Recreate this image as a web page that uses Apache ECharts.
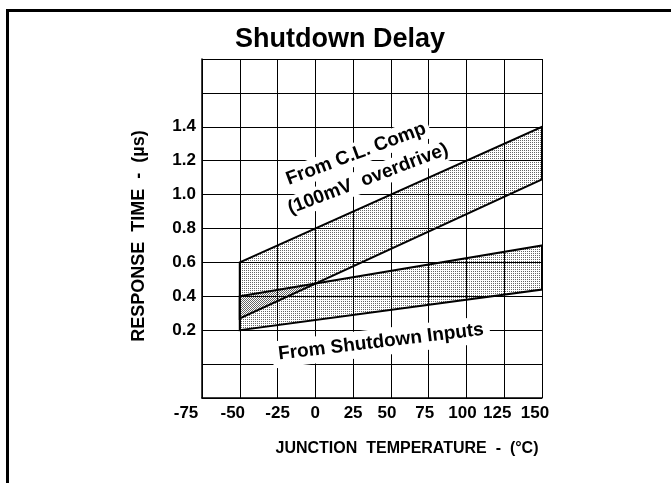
<!DOCTYPE html>
<html>
<head>
<meta charset="utf-8">
<script src="https://cdn.jsdelivr.net/npm/echarts@6/dist/echarts.min.js"></script>
<style>
html,body{margin:0;padding:0;background:#fff;}
#chart{width:671px;height:483px;}
</style>
</head>
<body>
<div id="chart"></div>
<script>
// ---- data ----
const temps = [-50, 150];                 // junction temperature (°C)
const clCompUpper = [0.60, 1.40];         // From C.L. Comp, upper bound (µs)
const clCompLower = [0.27, 1.09];         // From C.L. Comp, lower bound (µs)
const shutdownUpper = [0.40, 0.70];       // From Shutdown Inputs, upper bound (µs)
const shutdownLower = [0.20, 0.44];       // From Shutdown Inputs, lower bound (µs)
const xTicks = [-75, -50, -25, 0, 25, 50, 75, 100, 125, 150];
const yTickLabels = ['0.2', '0.4', '0.6', '0.8', '1.0', '1.2', '1.4'];

const FONT = '"Liberation Sans", Arial, Helvetica, sans-serif';

function makePattern(dots) {
  const c = document.createElement('canvas');
  c.width = 2; c.height = 2;
  const ctx = c.getContext('2d');
  ctx.fillStyle = 'rgba(0,0,0,0.6)';
  dots.forEach(d => ctx.fillRect(d[0], d[1], 1, 1));
  return c;
}
const patA = makePattern([[0, 0]]);
const patB = makePattern([[1, 1]]);

function bandSeries(name, lower, upper, pat) {
  return {
    type: 'custom',
    name: name,
    coordinateSystem: 'cartesian2d',
    data: temps.map((t, i) => [t, lower[i], upper[i]]),
    encode: { x: 0, y: [1, 2] },
    z: 3,
    renderItem: function (params, api) {
      if (params.dataIndex !== 0) return null;
      const pts = [];
      for (let i = 0; i < temps.length; i++) pts.push(api.coord([temps[i], upper[i]]));
      for (let i = temps.length - 1; i >= 0; i--) pts.push(api.coord([temps[i], lower[i]]));
      return {
        type: 'polygon',
        shape: { points: pts },
        style: {
          fill: { image: pat, repeat: 'repeat' },
          stroke: '#000',
          lineWidth: 2,
          lineJoin: 'miter'
        }
      };
    }
  };
}

const richOffsets = {
  a: { padding: [0, 32, 0, 0] },
  b: { padding: [0, 14, 0, 0] },
  c: { padding: [0, 8, 0, 0] }
};
function xLabelFmt(v) {
  const s = String(v);
  if (v === -75) return '{a|' + s + '}';
  if (v === -50 || v === 125 || v === 150) return '{b|' + s + '}';
  if (v === 50 || v === 75 || v === 100) return '{c|' + s + '}';
  return s;
}
function yLabelFmt(v) {
  const s = (Math.round(v * 10) / 10).toFixed(1);
  return yTickLabels.indexOf(s) >= 0 ? s : '';
}

const chart = echarts.init(document.getElementById('chart'), null, { renderer: 'canvas' });
chart.setOption({
  animation: false,
  backgroundColor: '#fff',
  textStyle: { fontFamily: FONT },
  title: {
    text: 'Shutdown Delay',
    left: 335,
    top: 21,
    textAlign: 'center',
    textStyle: { fontFamily: FONT, fontWeight: 'bold', fontSize: 27, color: '#000' }
  },
  grid: { left: 202, top: 59, width: 340, height: 339, containLabel: false },
  xAxis: {
    type: 'value',
    min: xTicks[0],
    max: xTicks[xTicks.length - 1],
    interval: 25,
    axisLine: { show: true, onZero: false, lineStyle: { color: '#000', width: 1.5 } },
    axisTick: { show: false },
    splitLine: { show: true, lineStyle: { color: '#000', width: 1 } },
    axisLabel: {
      margin: 7,
      fontFamily: FONT,
      fontWeight: 'bold',
      fontSize: 17,
      color: '#000',
      formatter: xLabelFmt,
      rich: {
        a: Object.assign({ fontFamily: FONT, fontWeight: 'bold', fontSize: 17, color: '#000' }, richOffsets.a),
        b: Object.assign({ fontFamily: FONT, fontWeight: 'bold', fontSize: 17, color: '#000' }, richOffsets.b),
        c: Object.assign({ fontFamily: FONT, fontWeight: 'bold', fontSize: 17, color: '#000' }, richOffsets.c)
      }
    }
  },
  yAxis: {
    type: 'value',
    min: -0.2,
    max: 1.8,
    interval: 0.2,
    axisLine: { show: true, onZero: false, lineStyle: { color: '#000', width: 1.5 } },
    axisTick: { show: false },
    splitLine: { show: true, lineStyle: { color: '#000', width: 1 } },
    axisLabel: {
      margin: 6,
      fontFamily: FONT,
      fontWeight: 'bold',
      fontSize: 17,
      color: '#000',
      formatter: yLabelFmt
    }
  },
  series: [
    bandSeries('From C.L. Comp (100mV overdrive)', clCompLower, clCompUpper, patA),
    bandSeries('From Shutdown Inputs', shutdownLower, shutdownUpper, patB)
  ],
  graphic: [
    {
      type: 'polyline', silent: true, z: 100,
      shape: { points: [[7.5, 490], [7.5, 10.5], [680, 10.5]] },
      style: { stroke: '#000', lineWidth: 3, fill: null }
    },
    {
      type: 'text', z: 100, x: 139, y: 236, rotation: Math.PI / 2,
      style: { text: 'RESPONSE  TIME  -  (µs)', font: 'bold 18px ' + FONT, fill: '#000', align: 'center', verticalAlign: 'middle' }
    },
    {
      type: 'text', z: 100, x: 407, y: 449,
      style: { text: 'JUNCTION  TEMPERATURE  -  (°C)', font: 'bold 16px ' + FONT, fill: '#000', align: 'center', verticalAlign: 'middle' }
    },
    {
      type: 'text', z: 50, x: 356, y: 154, rotation: 20.6 * Math.PI / 180,
      style: { text: 'From C.L. Comp', font: 'bold 19px ' + FONT, fill: '#000', align: 'center', verticalAlign: 'middle',
               backgroundColor: '#fff', padding: [2, 4, 2, 4] }
    },
    {
      type: 'text', z: 50, x: 368, y: 179, rotation: 20.8 * Math.PI / 180,
      style: { text: '(100mV  overdrive)', font: 'bold 19px ' + FONT, fill: '#000', align: 'center', verticalAlign: 'middle',
               backgroundColor: '#fff', padding: [2, 4, 2, 4] }
    },
    {
      type: 'text', z: 50, x: 381, y: 342, rotation: 6.9 * Math.PI / 180,
      style: { text: 'From Shutdown Inputs', font: 'bold 19px ' + FONT, fill: '#000', align: 'center', verticalAlign: 'middle',
               backgroundColor: '#fff', padding: [4, 6, 4, 6] }
    }
  ]
});
</script>
</body>
</html>
